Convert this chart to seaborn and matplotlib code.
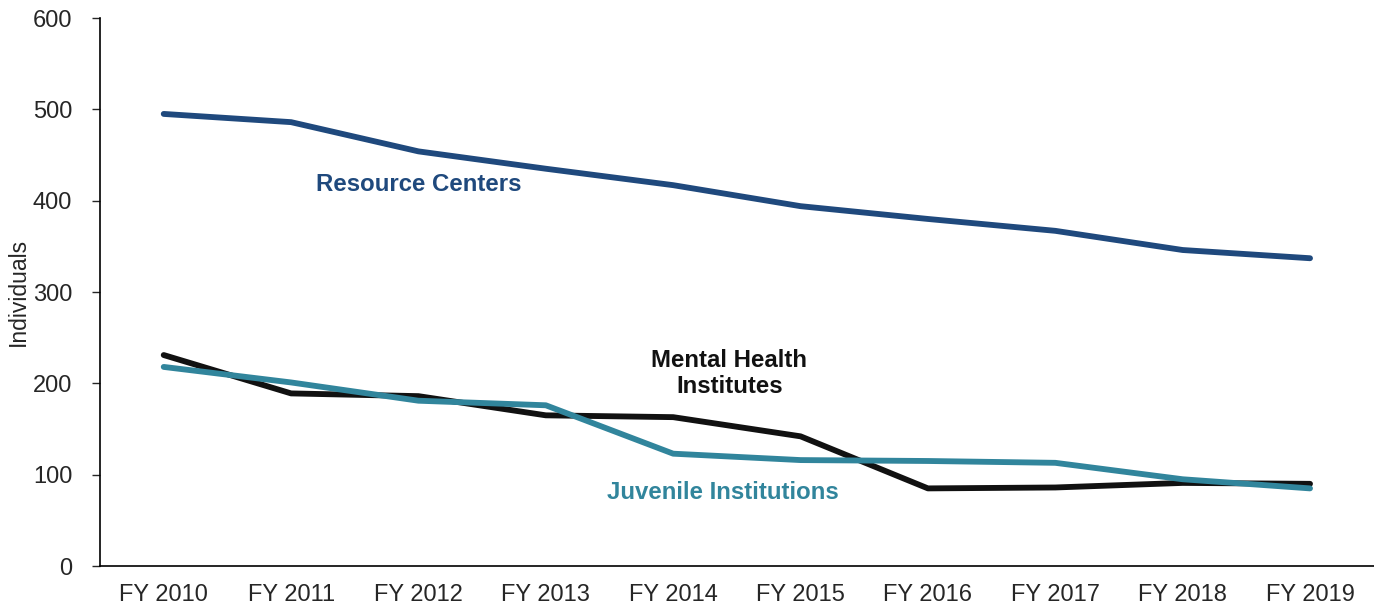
import numpy as np
import pandas as pd
import matplotlib
matplotlib.use('Agg')
import matplotlib.pyplot as plt
import seaborn as sns

years = ['FY 2010', 'FY 2011', 'FY 2012', 'FY 2013', 'FY 2014',
         'FY 2015', 'FY 2016', 'FY 2017', 'FY 2018', 'FY 2019']
resource_centers = [495, 486, 454, 435, 417, 394, 380, 367, 346, 337]
mental_health = [231, 189, 186, 165, 163, 142, 85, 86, 91, 90]
juvenile = [218, 201, 181, 176, 123, 116, 115, 113, 95, 85]

series = ['Resource Centers', 'Mental Health Institutes', 'Juvenile Institutions']
colors = {'Resource Centers': '#1F497D',
          'Mental Health Institutes': '#111111',
          'Juvenile Institutions': '#31859C'}

df = pd.DataFrame({
    'year': years * 3,
    'x': list(range(len(years))) * 3,
    'value': resource_centers + mental_health + juvenile,
    'series': np.repeat(series, len(years)),
})

sns.set_style('white')
plt.rcParams['font.family'] = ['Liberation Sans', 'DejaVu Sans']

fig = plt.figure(figsize=(13.74, 6.07), dpi=100)
ax = fig.add_axes([0.0728, 0.0675, 0.927, 0.9028])

sns.lineplot(data=df, x='x', y='value', hue='series', palette=colors,
             linewidth=4.2, legend=False, ax=ax, solid_capstyle='round')

ax.set_xlim(-0.5, 9.5)
ax.set_ylim(0, 600)
ax.set_xticks(range(len(years)))
ax.set_xticklabels(years)
ax.set_yticks(range(0, 601, 100))
ax.set_xlabel('')
ax.set_ylabel('Individuals', fontsize=16.5, labelpad=2)
ax.tick_params(axis='x', length=0, labelsize=17, pad=13)
ax.tick_params(axis='y', length=6, width=1, direction='out', labelsize=17, pad=14, left=True)

for s in ['top', 'right']:
    ax.spines[s].set_visible(False)
for s in ['left', 'bottom']:
    ax.spines[s].set_color('black')
    ax.spines[s].set_linewidth(1.2)

ax.text(2.0, 418, 'Resource Centers', color=colors['Resource Centers'],
        fontsize=17.3, fontweight='bold', ha='center', va='center')
ax.text(4.44, 211, 'Mental Health\nInstitutes', color=colors['Mental Health Institutes'],
        fontsize=17.3, fontweight='bold', ha='center', va='center', linespacing=1.15)
ax.text(4.39, 81, 'Juvenile Institutions', color=colors['Juvenile Institutions'],
        fontsize=17.3, fontweight='bold', ha='center', va='center')

fig.savefig('out.png', dpi=100)
